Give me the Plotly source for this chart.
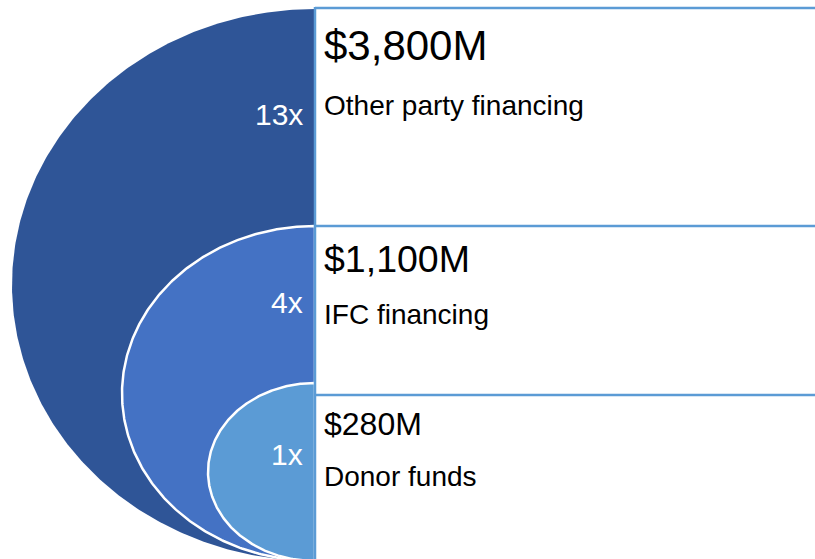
import numpy as np
import plotly.graph_objects as go

W, H = 815, 559

# data: outermost (largest) ring first
amounts = [3800, 1100, 280]          # $M
multiples = [13, 4, 1]
labels = ["Other party financing", "IFC financing", "Donor funds"]
colors = ["#2F5597", "#4472C4", "#5B9BD5"]

# diagram layout (pixels, y measured from the top)
AXIS_X = 315
ell_top = [9, 226, 383]
ell_left = [12, 122, 208]
ell_bottom = 561
band_top = [8, 226, 395]
amount_size = [42, 37.5, 32]
amount_base = [60, 272, 435]
label_base = [115, 324, 486]
mult_base = [125, 313, 465]
LABEL_SIZE = 28
MULT_SIZE = 30
FONT = "Liberation Sans, Arial, sans-serif"


def center_y(baseline, size):
    # annotations are anchored on their middle, move from baseline to there
    return baseline - 0.35 * size


fig = go.Figure()

t = np.linspace(np.pi / 2, 3 * np.pi / 2, 300)
for i in range(len(amounts)):
    rx = AXIS_X - ell_left[i]
    ry = (ell_bottom - ell_top[i]) / 2
    cy = (ell_bottom + ell_top[i]) / 2
    x = AXIS_X + rx * np.cos(t)
    y = cy - ry * np.sin(t)
    fig.add_trace(go.Scatter(
        x=np.append(x, AXIS_X), y=np.append(y, ell_top[i]),
        mode="lines", fill="toself", fillcolor=colors[i],
        line=dict(color="white", width=0 if i == 0 else 2.5),
        hoverinfo="skip", showlegend=False))

# boxes on the right
for top in band_top:
    fig.add_trace(go.Scatter(x=[AXIS_X, W + 10], y=[top, top], mode="lines",
                             line=dict(color="#5B9BD5", width=2.5),
                             hoverinfo="skip", showlegend=False))
fig.add_trace(go.Scatter(x=[AXIS_X, AXIS_X], y=[band_top[0] - 1, H + 10], mode="lines",
                         line=dict(color="#5B9BD5", width=2.5),
                         hoverinfo="skip", showlegend=False))

for i in range(len(amounts)):
    fig.add_annotation(x=AXIS_X + 7, y=center_y(amount_base[i], amount_size[i]),
                       text=f"${amounts[i]:,}M", showarrow=False,
                       xanchor="left", yanchor="middle",
                       font=dict(size=amount_size[i], color="black", family=FONT))
    fig.add_annotation(x=AXIS_X + 7, y=center_y(label_base[i], LABEL_SIZE),
                       text=labels[i], showarrow=False,
                       xanchor="left", yanchor="middle",
                       font=dict(size=LABEL_SIZE, color="black", family=FONT))
    fig.add_annotation(x=AXIS_X - 10, y=center_y(mult_base[i], MULT_SIZE),
                       text=f"{multiples[i]}x", showarrow=False,
                       xanchor="right", yanchor="middle",
                       font=dict(size=MULT_SIZE, color="white", family=FONT))

fig.update_xaxes(range=[0, W], visible=False, fixedrange=True)
fig.update_yaxes(range=[H, 0], visible=False, fixedrange=True)
fig.update_layout(width=W, height=H, margin=dict(l=0, r=0, t=0, b=0),
                  plot_bgcolor="white", paper_bgcolor="white")

fig.write_html("out.html", config={"displayModeBar": False},
               post_script="document.body.style.margin='0';document.body.style.overflow='hidden';")
